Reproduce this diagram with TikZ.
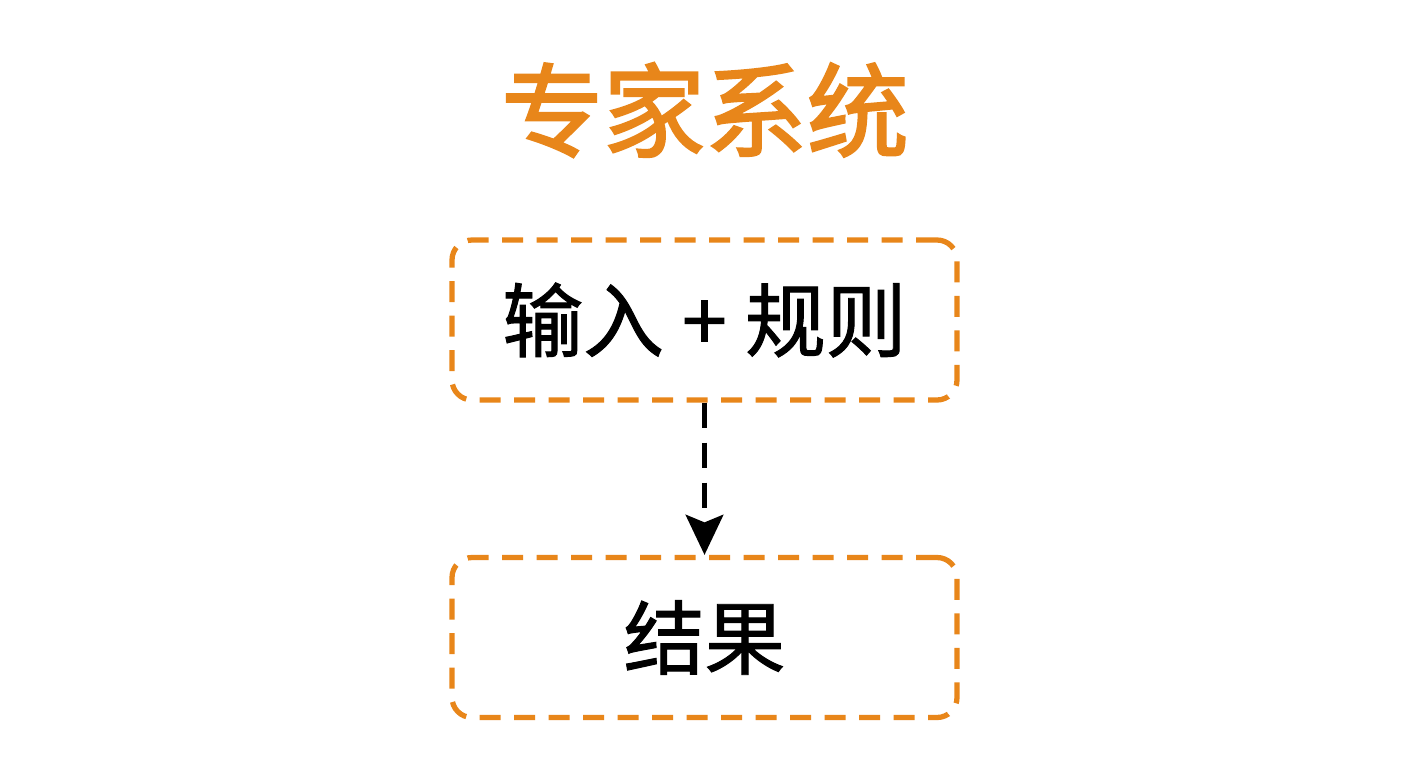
\documentclass[tikz,border=0pt]{standalone}
\usepackage{fontspec}
\newfontfamily\cjk{Noto Sans CJK SC}[FakeBold=1.2]
\newfontfamily\cjkt{Noto Sans CJK SC}[FakeBold=2.2]
\usetikzlibrary{arrows.meta}
\definecolor{orng}{HTML}{E8861A}
\begin{document}
\begin{tikzpicture}[x=0.02cm,y=-0.02cm,
  box/.style={draw=orng, line width=3pt, dash pattern=on 0.42cm off 0.27cm, rounded corners=0.4cm,
    minimum width=505*0.02cm, minimum height=160*0.02cm, inner sep=0pt},
  boxtext/.style={font=\cjk\fontsize{46}{52}\selectfont, text=black},
  conn/.style={draw=black, line width=3pt, dash pattern=on 0.5cm off 0.3cm,
    -{Stealth[length=0.8cm,width=0.75cm,inset=0.15cm]}}]
\useasboundingbox[fill=white] (0,0) rectangle (1408,768);
\node[font=\cjkt\fontsize{58}{62}\selectfont, text=orng] (title) at (705,110) {专家系统};
\node[box, boxtext] (b1) at (704.5,320) {输入 + 规则};
\node[box, boxtext] (b2) at (704.5,637.5) {结果};
\draw[conn] (b1.south) -- (b2.north);
\end{tikzpicture}
\end{document}
